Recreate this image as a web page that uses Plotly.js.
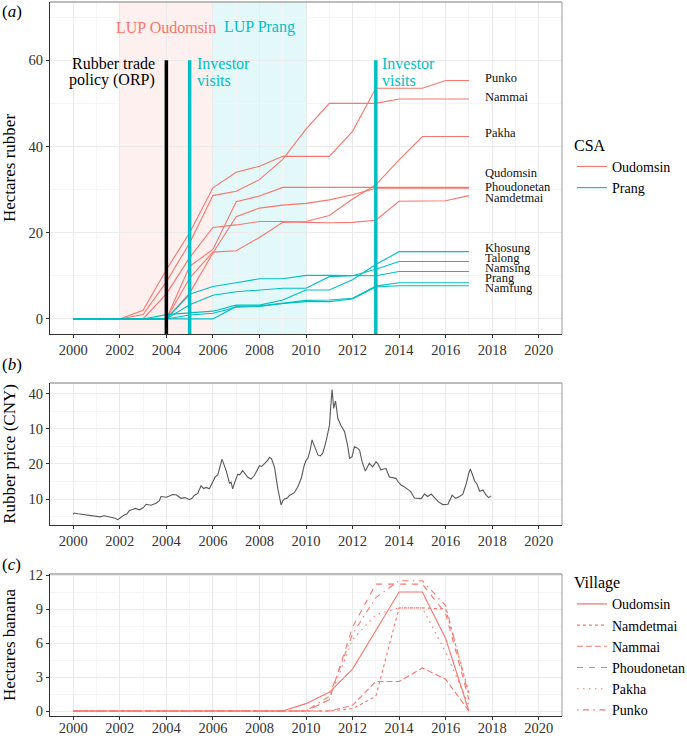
<!DOCTYPE html>
<html>
<head>
<meta charset="utf-8">
<script src="https://cdn.plot.ly/plotly-3.0.1.min.js"></script>
<style>html,body{margin:0;padding:0;background:#fff;}#chart{width:687px;height:736px;}</style>
</head>
<body>
<div id="chart"></div>
<script>
// ---------- DATA ----------
const years = [2000,2001,2002,2003,2004,2005,2006,2007,2008,2009,2010,2011,2012,2013,2014,2015,2016,2017];

// Panel (a): hectares rubber by village
const oudomsinVillages = ["Punko","Nammai","Pakha","Qudomsin","Phoudonetan","Namdetmai"];
const rubberPunko       = [0,0,0,2.0,11.4,20.0,30.4,34.0,35.4,37.7,37.7,37.7,43.5,53.5,53.5,53.5,55.3,55.3];
const rubberNammai      = [0,0,0,1.0,8.6,17.6,28.6,29.6,32.3,37.0,44.0,50.0,50.0,50.0,51.0,51.0,51.0,51.0];
const rubberPakha       = [0,0,0,0,0,9.5,15.5,15.8,18.9,22.4,22.6,24.0,27.8,31.1,36.9,42.3,42.3,42.3];
const rubberQudomsin    = [0,0,0,0,0,6.0,15.3,23.7,25.7,26.4,26.8,27.6,28.8,30.3,30.3,30.3,30.3,30.3];
const rubberPhoudonetan = [0,0,0,0,0,12.2,16.1,27.2,28.5,30.5,30.5,30.5,30.5,30.5,30.5,30.5,30.5,30.5];
const rubberNamdetmai   = [0,0,0,0,5.8,14.2,21.2,21.8,22.6,22.6,22.4,22.3,22.4,22.9,27.3,27.3,27.4,28.6];

const prangVillages = ["Khosung","Talong","Namsing","Prang","Namfung"];
const rubberKhosung = [0,0,0,0,1.0,1.4,1.8,3.2,3.2,4.4,6.7,6.7,9.1,12.6,15.6,15.6,15.6,15.6];
const rubberTalong  = [0,0,0,0,0,3.3,5.5,6.3,6.7,7.1,7.1,9.8,10.0,11.5,13.3,13.3,13.3,13.3];
const rubberNamsing = [0,0,0,0,0,5.7,7.5,8.4,9.3,9.3,10.1,10.1,10.0,10.0,11.0,11.0,11.0,11.0];
const rubberPrang   = [0,0,0,0,0,0,0,2.9,3.0,3.6,4.3,4.4,4.8,7.6,8.4,8.4,8.4,8.4];
const rubberNamfung = [0,0,0,0,0,0.9,1.3,2.7,2.9,3.6,4.0,4.0,4.6,7.4,7.7,7.7,7.7,7.7];

// village name labels at the end of the lines
const endLabelNames = ["Punko","Nammai","Pakha","Qudomsin","Phoudonetan","Namdetmai","Khosung","Talong","Namsing","Prang","Namfung"];
const endLabelY     = [55.9,51.5,43.2,33.9,30.6,28.1,16.5,14.2,11.8,9.5,7.2];
const endLabelX     = 2017.6;

// events
const lupNames  = ["LUP Oudomsin","LUP Prang"];
const lupStart  = [2002,2006];
const lupEnd    = [2006,2010];
const eventYear = [2004,2005,2013];
const eventTop  = 60;

// Panel (b): rubber price (CNY)
const priceDate = [2000.00,2000.04,2000.2,2000.54,2000.8,2000.97,2001.15,2001.33,2001.5,2001.62,2001.8,2001.91,
  2002.05,2002.19,2002.3,2002.41,2002.55,2002.67,2002.84,2003.0,2003.13,2003.34,2003.56,2003.7,2003.77,
  2004.01,2004.15,2004.27,2004.42,2004.63,2004.8,2004.99,2005.1,2005.2,2005.35,2005.49,2005.6,2005.71,2005.85,2005.99,
  2006.1,2006.21,2006.39,2006.57,2006.71,2006.78,2006.85,2006.95,2007.07,2007.15,2007.28,2007.5,2007.64,2007.78,
  2008.0,2008.1,2008.21,2008.35,2008.43,2008.52,2008.65,2008.79,2008.93,2009.0,2009.08,2009.2,2009.29,2009.4,2009.5,2009.65,2009.8,2009.92,
  2010.0,2010.08,2010.18,2010.26,2010.4,2010.51,2010.62,2010.72,2010.86,2011.01,2011.08,2011.12,2011.19,2011.27,2011.37,2011.5,2011.66,2011.8,2011.87,2011.98,
  2012.08,2012.2,2012.3,2012.41,2012.55,2012.65,2012.72,2012.86,2013.01,2013.1,2013.22,2013.3,2013.44,2013.58,2013.7,2013.87,2013.95,
  2014.08,2014.2,2014.37,2014.5,2014.66,2014.8,2014.95,2015.09,2015.23,2015.38,2015.5,2015.67,2015.8,2015.88,
  2016.1,2016.28,2016.43,2016.6,2016.74,2016.89,2017.0,2017.06,2017.15,2017.24,2017.35,2017.46,2017.6,2017.74,2017.85,2017.95];
const priceCNY = [5.6,6.0,5.8,5.5,5.4,5.1,4.9,5.2,5.0,4.7,4.5,4.1,
  4.8,5.4,5.7,6.7,7.0,7.3,6.9,7.5,8.5,8.2,8.8,9.5,10.7,
  10.5,10.9,11.3,11.2,10.2,10.4,9.8,10.2,11.0,11.6,13.8,13.0,13.3,12.9,15.0,
  16.3,16.9,21.4,18.1,14.5,14.8,12.9,15.0,17.1,16.9,18.1,16.2,15.7,16.7,
  19.5,19.3,20.0,21.0,21.9,21.5,19.0,12.9,8.3,9.5,10.0,10.3,11.0,11.4,11.8,13.5,16.0,19.5,
  21.0,21.6,24.0,26.9,24.5,22.6,22.3,23.1,26.4,31.1,38.0,41.3,35.9,38.0,33.0,31.0,29.2,24.9,21.6,22.1,
  24.9,24.6,24.0,20.6,18.0,19.5,20.2,19.2,20.6,20.0,18.3,18.5,18.7,16.3,16.2,15.9,15.0,
  14.0,13.6,12.6,12.1,10.3,10.1,10.1,11.4,10.7,11.4,10.4,9.3,8.7,8.4,
  8.5,11.1,10.2,10.7,11.4,14.5,17.5,18.6,17.0,15.2,14.2,12.2,12.6,11.1,10.4,10.9];
const priceTickVals = [10,20,30,40];
const priceTickText = ["10","20","10","40"];

// Panel (c): hectares banana by village
const bananaVillages = ["Oudomsin","Namdetmai","Nammai","Phoudonetan","Pakha","Punko"];
const bananaOudomsin    = [0,0,0,0,0,0,0,0,0,0,0.65,1.65,3.7,7.1,10.5,10.5,6.4,0];
const bananaNamdetmai   = [0,0,0,0,0,0,0,0,0,0,0,0,0.2,1.3,9.1,9.1,9.0,1.6];
const bananaNammai      = [0,0,0,0,0,0,0,0,0,0,0,0,0.5,2.6,2.6,3.8,2.8,0];
const bananaPhoudonetan = [0,0,0,0,0,0,0,0,0,0,0,1.0,7.4,11.2,11.2,11.2,8.6,1.0];
const bananaPakha       = [0,0,0,0,0,0,0,0,0,0,0,1.0,6.3,8.5,9.1,9.1,5.2,0.5];
const bananaPunko       = [0,0,0,0,0,0,0,0,0,0,0,1.3,6.8,10.0,11.5,11.5,9.3,1.3];

// ---------- STYLE ----------
const FONT = "Liberation Serif";
const RED = "#F8766D", TEAL = "#00BFC4";
const bananaDash = ["solid","3px,3px","6px,3px","6px,6px","1.5px,4.5px","1.5px,4.5px,6px,4.5px"];

const traces = [];
const oudSeries = [rubberPunko,rubberNammai,rubberPakha,rubberQudomsin,rubberPhoudonetan,rubberNamdetmai];
oudSeries.forEach((s,i)=>traces.push({x:years,y:s,type:"scatter",mode:"lines",name:"Oudomsin",
  legendgroup:"Oudomsin",showlegend:i===0,legend:"legend",line:{color:RED,width:1.1},xaxis:"x",yaxis:"y",
  hovertext:oudomsinVillages[i]}));
const prSeries = [rubberKhosung,rubberTalong,rubberNamsing,rubberPrang,rubberNamfung];
prSeries.forEach((s,i)=>traces.push({x:years,y:s,type:"scatter",mode:"lines",name:"Prang",
  legendgroup:"Prang",showlegend:i===0,legend:"legend",line:{color:TEAL,width:1.1},xaxis:"x",yaxis:"y",
  hovertext:prangVillages[i]}));

traces.push({x:priceDate,y:priceCNY,type:"scatter",mode:"lines",name:"Rubber price",showlegend:false,
  line:{color:"#595959",width:1.1},xaxis:"x2",yaxis:"y2"});

const banSeries = [bananaOudomsin,bananaNamdetmai,bananaNammai,bananaPhoudonetan,bananaPakha,bananaPunko];
banSeries.forEach((s,i)=>traces.push({x:years,y:s,type:"scatter",mode:"lines",name:bananaVillages[i],
  legend:"legend2",line:{color:RED,width:1.1,dash:bananaDash[i]},xaxis:"x3",yaxis:"y3"}));

const tickfont = {family:FONT,size:14.5,color:"#333"};
function xax(anchor){
  return {anchor:anchor,domain:[0,1],range:[1999,2021],tick0:2000,dtick:2,ticks:"outside",ticklen:3,
    tickcolor:"#333",showgrid:true,gridcolor:"#EBEBEB",gridwidth:1,automargin:false,
    minor:{dtick:1,tick0:2000,showgrid:true,gridcolor:"#F5F5F5",gridwidth:0.6},
    showline:true,linecolor:"#333",linewidth:1,zeroline:false,tickfont:tickfont};
}
function yax(anchor,domain,range,tickvals,minorvals,title){
  return {anchor:anchor,domain:domain,range:range,tickvals:tickvals,ticks:"outside",ticklen:3,tickcolor:"#333",
    showgrid:true,gridcolor:"#EBEBEB",gridwidth:1,automargin:false,
    minor:{tickvals:minorvals,showgrid:true,gridcolor:"#F5F5F5",gridwidth:0.6},
    showline:true,linecolor:"#333",linewidth:1,zeroline:false,tickfont:tickfont,
    title:{text:title,font:{family:FONT,size:17,color:"#000"},standoff:12}};
}

const xaC = xax("y3");
xaC.ticklabelstandoff = -4;
const yaA = yax("x",[0.535,1],[-3.5,73.5],[0,20,40,60],[10,30,50,70],"Hectares rubber");
const yaB = yax("x2",[0.2675,0.4664],[2.57,43.14],priceTickVals,[5,15,25,35],"Rubber price (CNY)");
yaB.ticktext = priceTickText;
const yaC = yax("x3",[0,0.1989],[-0.44,12.09],[0,3,6,9,12],[1.5,4.5,7.5,10.5],"Hectares banana");

const shapes = [];
// LUP periods
const lupFill = ["rgba(248,118,109,0.11)","rgba(0,191,196,0.11)"];
lupNames.forEach((n,i)=>shapes.push({type:"rect",xref:"x",yref:"y",x0:lupStart[i],x1:lupEnd[i],y0:-3.5,y1:73.5,
  fillcolor:lupFill[i],line:{width:0},layer:"below"}));
// event lines
const eventColor = ["#000000",TEAL,TEAL];
eventYear.forEach((yr,i)=>shapes.push({type:"line",xref:"x",yref:"y",x0:yr,x1:yr,y0:-3.5,y1:eventTop,
  line:{color:eventColor[i],width:3.5},layer:"above"}));
// panel top/right borders
["y","y2","y3"].forEach(ya=>{
  shapes.push({type:"line",xref:"paper",yref:ya+" domain",x0:0,x1:1,y0:1,y1:1,line:{color:"#A6A6A6",width:1.5},layer:"above"});
  shapes.push({type:"line",xref:"paper",yref:ya+" domain",x0:1,x1:1,y0:0,y1:1,line:{color:"#999",width:1},layer:"above"});
});

const ann = [];
endLabelNames.forEach((n,i)=>ann.push({xref:"x",yref:"y",x:endLabelX,y:endLabelY[i],text:n,showarrow:false,
  xanchor:"left",yanchor:"middle",font:{family:FONT,size:12.5,color:"#111"}}));
const lupX = [2004,2008];
const lupColor = [RED,TEAL];
lupNames.forEach((n,i)=>ann.push({xref:"x",yref:"y",x:lupX[i],y:67.7,text:n,showarrow:false,
  xanchor:"center",yanchor:"middle",font:{family:FONT,size:16,color:lupColor[i]}}));
const evText = [["Rubber trade","policy (ORP)"],["Investor","visits"],["Investor","visits"]];
const evTextX = [2003.6,2005.25,2013.2];
const evAnchor = ["right","left","left"];
evText.forEach((lines,i)=>{
  ann.push({xref:"x",yref:"y",x:evTextX[i],y:59.2,text:lines[0],showarrow:false,xanchor:evAnchor[i],yanchor:"middle",
    font:{family:FONT,size:16,color:eventColor[i]}});
  ann.push({xref:"x",yref:"y",x:evTextX[i],y:55.3,text:lines[1],showarrow:false,xanchor:evAnchor[i],yanchor:"middle",
    font:{family:FONT,size:16,color:eventColor[i]}});
});
const panelLetters = ["(<i>a</i>)","(<i>b</i>)","(<i>c</i>)"];
const panelLetterY = [0.986,0.4916,0.2115];
panelLetters.forEach((t,i)=>ann.push({xref:"paper",yref:"paper",x:-0.0977,y:panelLetterY[i],text:t,showarrow:false,
  xanchor:"left",yanchor:"middle",font:{family:FONT,size:17,color:"#000"}}));

const legendBase = {xanchor:"left",yanchor:"top",bgcolor:"rgba(0,0,0,0)",font:{family:FONT,size:14,color:"#000"},
  itemwidth:30,tracegroupgap:0};
const layout = {
  width:687,height:736,margin:{l:50,r:125,t:2,b:20,autoexpand:false},paper_bgcolor:"#fff",plot_bgcolor:"#fff",
  font:{family:FONT},showlegend:true,
  xaxis:xax("y"),yaxis:yaA,xaxis2:xax("y2"),yaxis2:yaB,xaxis3:xaC,yaxis3:yaC,
  legend:Object.assign({},legendBase,{x:1.0195,y:0.8207,title:{text:"CSA",font:{family:FONT,size:16,color:"#000"}}}),
  legend2:Object.assign({},legendBase,{x:1.0195,y:0.208,title:{text:"Village",font:{family:FONT,size:16,color:"#000"}}}),
  shapes:shapes,annotations:ann
};
Plotly.newPlot("chart",traces,layout,{displayModeBar:false});
</script>
</body>
</html>
